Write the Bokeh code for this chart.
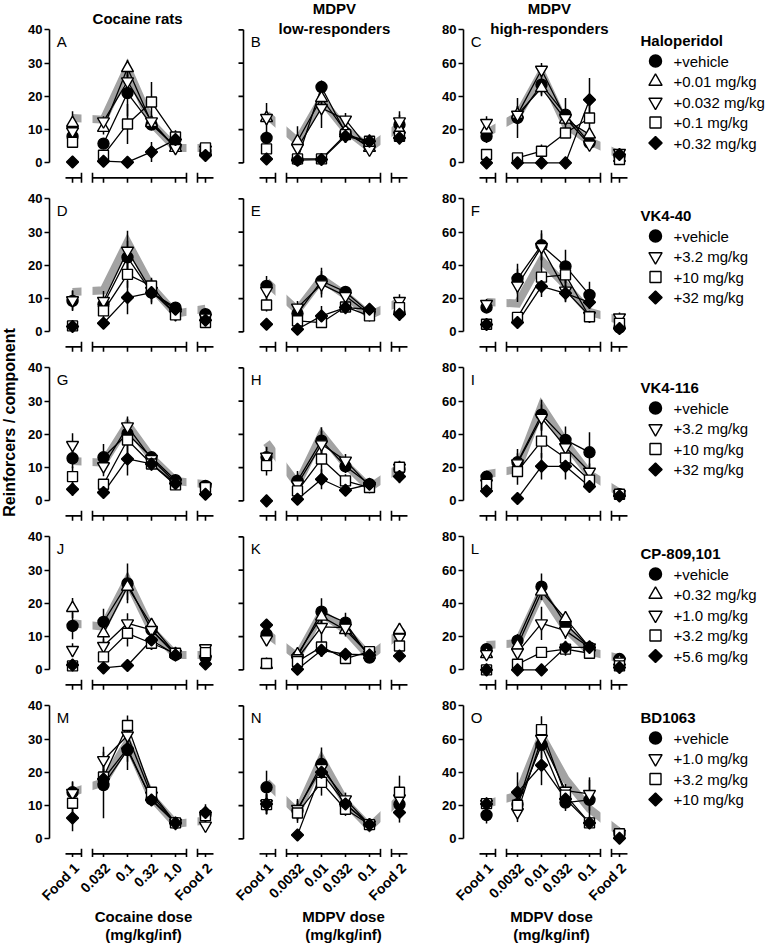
import math
from bokeh.plotting import figure
from bokeh.models import Range1d, FixedTicker, Label
from bokeh.layouts import row, column
from bokeh.embed import file_html
from bokeh.resources import INLINE
from bokeh.core.properties import value

FONT = "Liberation Sans"
BAND = "#a3a3a3"

# ---------------- categories / ticks ----------------
X_POS = [-0.29, 1.0, 2.0, 3.0, 4.0, 5.25]
COCAINE_TICKS = ["Food 1", "0.032", "0.1", "0.32", "1.0", "Food 2"]
MDPV_TICKS = ["Food 1", "0.0032", "0.01", "0.032", "0.1", "Food 2"]
COL_TICKS = [COCAINE_TICKS, MDPV_TICKS, MDPV_TICKS]
COL_TITLES = [["Cocaine rats"], ["MDPV", "low-responders"], ["MDPV", "high-responders"]]
X_TITLES = [["Cocaine dose", "(mg/kg/inf)"], ["MDPV dose", "(mg/kg/inf)"], ["MDPV dose", "(mg/kg/inf)"]]
Y_TITLE = "Reinforcers / component"
YMAX = [40, 40, 80]
LETTERS = [["A", "B", "C"], ["D", "E", "F"], ["G", "H", "I"], ["J", "K", "L"], ["M", "N", "O"]]

ROW_DRUGS = ["Haloperidol", "VK4-40", "VK4-116", "CP-809,101", "BD1063"]
ROW_LABELS = [
    ["+vehicle", "+0.01 mg/kg", "+0.032 mg/kg", "+0.1 mg/kg", "+0.32 mg/kg"],
    ["+vehicle", "+3.2 mg/kg", "+10 mg/kg", "+32 mg/kg"],
    ["+vehicle", "+3.2 mg/kg", "+10 mg/kg", "+32 mg/kg"],
    ["+vehicle", "+0.32 mg/kg", "+1.0 mg/kg", "+3.2 mg/kg", "+5.6 mg/kg"],
    ["+vehicle", "+1.0 mg/kg", "+3.2 mg/kg", "+10 mg/kg"],
]
ROW_MARKERS = [
    ["circle", "triangle", "inverted_triangle", "square", "diamond"],
    ["circle", "inverted_triangle", "square", "diamond"],
    ["circle", "inverted_triangle", "square", "diamond"],
    ["circle", "triangle", "inverted_triangle", "square", "diamond"],
    ["circle", "inverted_triangle", "square", "diamond"],
]

# ---------------- data (Food1, 4 doses, Food2) ----------------
# Row 1: Haloperidol
A_SERIES = [[8.0, 5.8, 21.0, 11.5, 5.0, 3.5], [12.0, 10.5, 28.5, 12.0, 4.5, 3.5],
            [9.5, 12.5, 24.5, 12.5, 4.5, 4.0], [6.2, 2.3, 11.7, 18.3, 7.8, 4.5],
            [0.3, 0.5, 0.2, 3.3, 7.0, 2.2]]
A_SEM = [[1.5, 1.5, 7, 1.5, 1, 1], [3.5, 2, 2.5, 1.5, 1, 1], [1.5, 1.5, 2, 1.5, 1, 1],
         [1, 1, 6, 6, 2, 1], [0.5, 0.5, 0.5, 3, 2.5, 1]]
A_BASE = [13.5, 13.0, 28.5, 12.0, 4.5, 4.5]

B_SERIES = [[7.5, 1.0, 22.8, 9.0, 5.0, 11.5], [13.5, 6.5, 19.5, 9.5, 4.5, 10.0],
            [13.5, 4.5, 16.5, 13.0, 4.0, 12.5], [4.2, 1.2, 1.2, 8.5, 6.5, 8.0],
            [1.2, 0.8, 1.0, 8.0, 6.5, 7.5]]
B_SEM = [[2, 1, 2, 1.5, 1, 3], [4.5, 4.5, 2, 1.5, 1, 2], [2, 2, 6, 2, 1.5, 3],
         [1, 0.5, 0.5, 2.5, 2, 2], [0.5, 0.5, 0.5, 2, 2, 2]]
B_BASE = [14.5, 6.5, 19.0, 10.0, 4.5, 11.0]

C_SERIES = [[16, 27, 47, 29, 12, 4], [20, 29, 45, 26, 17, 3], [24, 29, 56, 27, 11, 6],
            [5, 3, 7, 18, 27, 2], [0, 0, 0, 0, 38, 5]]
C_SEM = [[4, 12, 6, 10, 3, 2], [3, 5, 5, 3, 4, 2], [4, 5, 4, 3, 3, 2],
         [2, 1, 4, 3, 8, 1], [1, 1, 1, 1, 13, 2]]
C_BASE = [18, 28, 54, 23, 13, 5]

# Row 2: VK4-40
D_SERIES = [[9.3, 8.3, 22.4, 11.8, 7.3, 5.3], [9.5, 9.3, 24.4, 12.3, 5.3, 4.3],
            [1.8, 6.3, 17.3, 13.8, 5.1, 2.8], [1.6, 2.6, 10.3, 11.8, 6.8, 3.5]]
D_SEM = [[3, 2, 5, 2, 1, 1], [3, 3, 6, 4, 1, 1], [0.5, 2, 4, 2, 1, 1], [0.5, 1, 5, 3, 2, 1]]
D_BASE = [12.0, 12.5, 27.0, 13.5, 5.5, 7.0]

E_SERIES = [[13.8, 5.5, 15.3, 12.0, 5.8, 5.8], [12.3, 7.3, 14.3, 10.8, 5.3, 9.3],
            [8.1, 3.3, 2.8, 7.5, 4.8, 7.3], [2.3, 0.8, 4.8, 7.3, 6.8, 5.3]]
E_SEM = [[3, 2, 4, 1.5, 1, 2], [3, 2, 4, 2, 1, 2], [2, 1.5, 1.5, 2, 1, 2], [1.5, 0.5, 3, 2, 1.5, 2]]
E_BASE = [15.0, 6.5, 16.0, 11.0, 5.0, 9.0]

F_SERIES = [[14.7, 31.9, 52.1, 39.4, 22.2, 2.6], [16.8, 27.9, 51.1, 24.8, 9.7, 8.7],
            [4.6, 8.7, 32.9, 34.3, 9.1, 5.1], [4.4, 5.7, 27.3, 23.2, 17.8, 2.0]]
F_SEM = [[3, 9, 9, 10, 8, 2], [3, 10, 8, 7, 3, 3], [2, 3, 12, 8, 2, 2], [2, 2, 4, 5, 4, 1]]
F_BASE = [18, 17, 43, 28, 12, 7]

# Row 3: VK4-116
G_SERIES = [[12.8, 13.1, 20.2, 13.1, 6.2, 4.5], [16.8, 10.4, 22.4, 12.6, 5.5, 4.2],
            [7.3, 5.0, 18.3, 11.1, 4.8, 4.0], [3.5, 2.5, 12.6, 11.1, 5.2, 2.0]]
G_SEM = [[3, 4, 3, 1.5, 1, 1], [3.5, 3, 3, 1.5, 1, 1], [3, 1.5, 4, 2, 1, 1], [2, 1, 5, 2, 1, 1]]
G_BASE = [12.0, 11.5, 23.0, 13.0, 6.0, 5.0]

H_SERIES = [[13.1, 6.0, 18.1, 10.4, 5.0, 9.5], [13.3, 5.0, 17.0, 12.1, 4.5, 10.0],
            [10.6, 3.0, 12.6, 6.0, 4.0, 10.1], [0.0, 0.5, 6.5, 3.2, 5.0, 7.3]]
H_SEM = [[3, 3, 4, 2, 1, 2], [3, 3, 4, 2, 1, 2], [3, 1, 5, 2, 1, 2], [0.5, 0.5, 3, 1, 1, 2]]
H_BASE = [17.5, 5.0, 20.0, 11.0, 4.0, 10.0]

I_SERIES = [[14.5, 23.2, 51.8, 36.7, 29.2, 4.0], [10.5, 22.6, 50.0, 32.3, 17.5, 4.0],
            [10.0, 17.7, 35.9, 25.8, 12.5, 4.0], [6.0, 1.4, 20.8, 20.8, 8.7, 3.0]]
I_SEM = [[2, 8, 9, 8, 12, 1], [2, 6, 8, 6, 5, 1], [2, 8, 10, 6, 3, 1], [2, 1, 8, 8, 3, 1]]
I_BASE = [16, 19, 57, 35, 16, 5]

# Row 4: CP-809,101
J_SERIES = [[13.2, 14.4, 26.0, 12.0, 4.5, 3.7], [18.6, 11.0, 25.0, 13.5, 4.8, 5.0],
            [6.0, 7.2, 14.0, 12.0, 4.8, 6.5], [1.2, 3.9, 11.0, 8.0, 5.0, 5.2],
            [1.5, 0.6, 1.3, 9.0, 4.5, 1.8]]
J_SEM = [[4, 4, 6, 2, 1, 1], [3, 3, 4, 2, 1, 1], [2, 2, 3, 2, 1, 1], [0.5, 1, 4, 2, 1, 1],
         [0.5, 0.5, 0.5, 3, 1, 1]]
J_BASE = [14.0, 13.0, 27.0, 12.0, 4.5, 4.5]

K_SERIES = [[10.7, 4.0, 17.5, 14.2, 3.7, 11.0], [1.5, 4.7, 16.0, 12.0, 4.5, 12.0],
            [9.2, 3.5, 12.9, 12.7, 4.5, 9.7], [1.9, 2.5, 6.9, 3.4, 5.5, 7.2],
            [13.5, 0.2, 5.9, 4.7, 4.5, 4.2]]
K_SEM = [[2, 2, 4, 3, 1, 2], [1, 1.5, 3, 2, 1, 2], [2, 1.5, 3, 2, 1, 2], [1, 1, 3, 1, 1, 2],
         [1.5, 0.3, 2, 1, 1, 1.5]]
K_BASE = [11.0, 4.0, 17.0, 12.0, 4.0, 11.0]

L_SERIES = [[12.5, 17.6, 50.0, 27.7, 13.5, 6.5], [9.5, 14.5, 47.0, 31.0, 13.5, 5.0],
            [9.5, 10.5, 28.0, 23.6, 13.5, 5.0], [0.0, 3.4, 10.5, 12.5, 10.0, 2.4],
            [0.0, 0.0, 0.0, 13.5, 13.5, 1.4]]
L_SEM = [[2, 4, 8, 5, 3, 2], [2, 3, 5, 4, 3, 2], [2, 3, 10, 5, 3, 2], [1, 2, 3, 4, 2, 1],
         [1, 0.5, 0.5, 4, 3, 1]]
L_BASE = [15, 16, 47, 25, 11, 7]

# Row 5: BD1063
M_SERIES = [[14.0, 16.2, 26.7, 11.9, 4.8, 7.3], [13.8, 23.7, 31.1, 13.0, 4.8, 4.0],
            [10.7, 18.6, 34.1, 14.0, 4.8, 7.0], [6.3, 18.0, 27.2, 11.7, 4.8, 7.9]]
M_SEM = [[3, 10, 6, 1.5, 1, 2], [3.5, 4, 3, 1.5, 1, 2], [3, 3, 3, 1, 1, 2], [4, 3, 4, 1, 1, 2.5]]
M_BASE = [14.0, 17.0, 29.0, 12.5, 4.5, 5.5]

N_SERIES = [[15.5, 8.5, 22.5, 10.4, 4.3, 10.4], [10.5, 9.0, 21.3, 11.9, 4.3, 12.2],
            [10.3, 7.8, 17.0, 8.9, 4.3, 14.0], [10.5, 1.2, 20.0, 10.5, 4.3, 7.9]]
N_SEM = [[5, 3, 5, 2, 1, 3], [3, 3, 4, 2, 1, 3], [3, 3, 4, 2, 1, 5], [3, 1, 4, 2, 1, 3]]
N_BASE = [17.0, 8.0, 24.0, 11.0, 3.5, 12.0]

O_SERIES = [[14.3, 20.8, 56.5, 21.8, 23.5, 3.0], [21.0, 16.1, 60.2, 29.0, 27.0, 3.0],
            [21.2, 20.2, 65.7, 26.3, 9.6, 3.1], [21.0, 28.0, 44.3, 24.0, 9.6, 0.4]]
O_SEM = [[5, 5, 8, 5, 12, 1], [4, 6, 6, 4, 10, 1], [3, 4, 8, 4, 3, 1], [3, 12, 12, 3, 3, 1]]
O_BASE = [21, 26, 62, 36, 18, 4]

PANELS = [
    [(A_SERIES, A_SEM, A_BASE), (B_SERIES, B_SEM, B_BASE), (C_SERIES, C_SEM, C_BASE)],
    [(D_SERIES, D_SEM, D_BASE), (E_SERIES, E_SEM, E_BASE), (F_SERIES, F_SEM, F_BASE)],
    [(G_SERIES, G_SEM, G_BASE), (H_SERIES, H_SEM, H_BASE), (I_SERIES, I_SEM, I_BASE)],
    [(J_SERIES, J_SEM, J_BASE), (K_SERIES, K_SEM, K_BASE), (L_SERIES, L_SEM, L_BASE)],
    [(M_SERIES, M_SEM, M_BASE), (N_SERIES, N_SEM, N_BASE), (O_SERIES, O_SEM, O_BASE)],
]

# ---------------- layout constants ----------------
FRAME_W, FRAME_H = 172, 158
PX_PER_X = 24.0
X_LO, X_HI = -1.25, 5.917
Y_LO, Y_HI = -6.5, 41.0          # nominal frame, in units of (ymax/40)
PX_PER_UNIT = FRAME_H / (Y_HI - Y_LO)
YLAB_W = 24
LEFT_BORDER = [25, 14, 48]
EXTRA_LEFT = [0, 8, 0]           # col 2 draws its own (label-less) y axis
FRAME_LEFT = [49, 243, 463]      # page x of nominal frame left (y axis line)
ROW_TOP = [0, 6, 6, 6, 6]        # figure border above frame
ROW_BOTTOM = [5, 5, 5, 5, 0]
EXT_TOP = [26, 0, 0, 0, 0]       # frame extension above nominal frame (px)
EXT_BOTTOM = [0, 0, 0, 0, -3]    # frame extension below nominal frame (px)
FRAME_TOP = [26, 195, 364, 533, 702]   # page y of nominal frame top
STRIP_TOP, STRIP_BOTTOM = 857, 944
AXIS_SEGMENTS = [(-0.583, 0.083), (0.542, 4.458), (4.917, 5.583)]
CAP_X = [0.083, 0.542, 4.458, 4.917]
GAPS = [(0.083, 0.542), (4.458, 4.917)]
AXIS_Y = -4.5
TICK_LEN = 1.5
TICKLABEL_DX = 4                 # px right of tick
TICKLABEL_PY = 865               # page y of rotated tick-label anchor
TITLE_X = [2.42, 2.54, 2.33]
TITLE_Y = [[18], [8, 28], [8, 28]]
XTITLE_PX = [143, 343, 551]
XTITLE_Y = [916, 934]
LEG_TITLE_Y = [40, 215, 387, 553, 717]
LEG_STEP = 20.5
YLABEL_CENTER = 422


def marker_kw(m, scale=1.0):
    filled = m in ("circle", "diamond")
    kw = dict(fill_color="black" if filled else "white", line_color="black", line_width=1.4)
    if m == "diamond":
        kw.update(marker="square", angle=math.pi / 4, size=8.5 * scale)
    elif m == "circle":
        kw.update(marker="circle", size=11 * scale)
    elif m == "square":
        kw.update(marker="square", size=10 * scale)
    else:
        kw.update(marker=m, size=12 * scale)
    return kw


def page_to_y(py, r, k):
    return (Y_HI - (py - FRAME_TOP[r]) / PX_PER_UNIT) * k


def make_panel(r, c):
    series, sems, base = PANELS[r][c]
    k = YMAX[c] / 40.0
    lb = LEFT_BORDER[c]
    extra = EXTRA_LEFT[c]
    x_lo = X_LO - extra / PX_PER_X
    y_hi = (Y_HI + EXT_TOP[r] / PX_PER_UNIT) * k
    y_lo = (Y_LO - EXT_BOTTOM[r] / PX_PER_UNIT) * k
    top, bot = ROW_TOP[r], ROW_BOTTOM[r]
    fh = FRAME_H + EXT_TOP[r] + EXT_BOTTOM[r]
    p = figure(width=lb + FRAME_W + extra, height=top + fh + bot,
               x_range=Range1d(x_lo, X_HI), y_range=Range1d(y_lo, y_hi),
               min_border_left=lb, min_border_right=0, min_border_top=top,
               min_border_bottom=bot, output_backend="svg", toolbar_location=None, tools="")
    p.outline_line_color = None
    p.xgrid.visible = False
    p.ygrid.visible = False
    p.xaxis.visible = False

    # baseline band (thick grey line, hidden in the axis gaps)
    p.line(X_POS, base, line_width=8, line_color=BAND, line_join="miter", level="underlay")
    p.quad(left=[g[0] for g in GAPS], right=[g[1] for g in GAPS],
           bottom=y_lo, top=y_hi, fill_color="white", line_color=None, level="underlay")

    yticks = [t * k for t in [0, 10, 20, 30, 40]]
    ya = p.yaxis[0]
    if c == 1:
        ya.visible = False
        tlx = 5 / PX_PER_X
        p.segment(x0=[X_LO], x1=[X_LO], y0=[0], y1=[40 * k], line_width=1.6, line_color="black")
        p.segment(x0=X_LO - tlx, x1=X_LO, y0=yticks, y1=yticks, line_width=1.6, line_color="black")
    else:
        ya.ticker = FixedTicker(ticks=yticks)
        ya.bounds = (0, 40 * k)
        ya.axis_line_width = 1.6
        ya.axis_line_color = "black"
        ya.major_tick_out = 5
        ya.major_tick_in = 0
        ya.major_tick_line_width = 1.6
        ya.major_tick_line_color = "black"
        ya.minor_tick_line_color = None
        ya.major_label_text_font = FONT
        ya.major_label_text_font_size = "13px"
        ya.major_label_text_font_style = "bold"
        ya.major_label_text_color = "black"
        ya.major_label_standoff = 2

    # segmented x axis
    ay = AXIS_Y * k
    tl = TICK_LEN * k
    p.segment(x0=[s[0] for s in AXIS_SEGMENTS], x1=[s[1] for s in AXIS_SEGMENTS],
              y0=ay, y1=ay, line_width=1.6, line_color="black")
    p.segment(x0=X_POS, x1=X_POS, y0=ay, y1=ay - tl, line_width=1.6, line_color="black")
    p.segment(x0=CAP_X, x1=CAP_X, y0=ay - tl, y1=ay + tl, line_width=1.6, line_color="black")

    # error bars, dose lines, markers
    for vals, err in zip(series, sems):
        p.segment(x0=X_POS, x1=X_POS, y0=[v - e for v, e in zip(vals, err)],
                  y1=[v + e for v, e in zip(vals, err)], line_width=1.5, line_color="black")
    for vals in series:
        p.line(X_POS[1:5], vals[1:5], line_width=1.3, line_color="black")
    for vals, m in zip(series, ROW_MARKERS[r]):
        p.scatter(X_POS, vals, **marker_kw(m))

    p.add_layout(Label(x=-0.95, y=36.6 * k, text=LETTERS[r][c], text_font=FONT,
                       text_font_size="15px", text_baseline="middle", text_align="left",
                       text_color="black"))

    if r == 0:
        for t, py in zip(COL_TITLES[c], TITLE_Y[c]):
            p.add_layout(Label(x=TITLE_X[c], y=page_to_y(py, r, k), text=t, text_font=FONT,
                               text_font_size="15px", text_font_style="bold",
                               text_align="center", text_baseline="middle", text_color="black"))
    return p


panels = [[make_panel(r, c) for c in range(3)] for r in range(5)]

# bottom strip: rotated dose tick labels and x-axis titles (page-pixel coordinates)
MAIN_W = sum(LEFT_BORDER) + 3 * FRAME_W + sum(EXTRA_LEFT)
strip = figure(width=MAIN_W, height=STRIP_BOTTOM - STRIP_TOP,
               x_range=Range1d(YLAB_W, YLAB_W + MAIN_W), y_range=Range1d(STRIP_BOTTOM, STRIP_TOP),
               x_axis_type=None, y_axis_type=None, min_border=0, output_backend="svg",
               toolbar_location=None, tools="")
strip.outline_line_color = None
for c in range(3):
    tx = [FRAME_LEFT[c] + (x - X_LO) * PX_PER_X + TICKLABEL_DX for x in X_POS]
    strip.text(x=tx, y=[TICKLABEL_PY] * len(tx), text=COL_TICKS[c], angle=math.pi / 4,
               text_align="right", text_baseline="middle", text_font=value(FONT),
               text_font_size="14px", text_font_style="bold", text_color="black")
    strip.text(x=[XTITLE_PX[c]] * 2, y=XTITLE_Y, text=X_TITLES[c], text_align="center",
               text_baseline="middle", text_font=value(FONT), text_font_size="15px",
               text_font_style="bold", text_color="black")

main = column(*[row(*panels[r]) for r in range(5)], strip)

TOTAL_H = STRIP_BOTTOM

# y-axis title strip
ylab = figure(width=YLAB_W, height=TOTAL_H, x_range=Range1d(0, YLAB_W), y_range=Range1d(TOTAL_H, 0),
              x_axis_type=None, y_axis_type=None, min_border=0, output_backend="svg",
              toolbar_location=None, tools="")
ylab.outline_line_color = None
ylab.add_layout(Label(x=9, y=YLABEL_CENTER, text=Y_TITLE, angle=math.pi / 2,
                      text_font=FONT, text_font_size="16px", text_font_style="bold",
                      text_align="center", text_baseline="middle", text_color="black"))

# legend strip
LEG_W = 135
leg = figure(width=LEG_W, height=TOTAL_H, x_range=Range1d(0, LEG_W), y_range=Range1d(TOTAL_H, 0),
             x_axis_type=None, y_axis_type=None, min_border=0, output_backend="svg",
             toolbar_location=None, tools="")
leg.outline_line_color = None
for r in range(5):
    ty = LEG_TITLE_Y[r]
    leg.text(x=[5], y=[ty], text=[ROW_DRUGS[r]], text_font=value(FONT), text_font_size="15px",
             text_font_style="bold", text_baseline="middle", text_align="left", text_color="black")
    n = len(ROW_LABELS[r])
    ys = [ty + LEG_STEP * (i + 1) for i in range(n)]
    for i, m in enumerate(ROW_MARKERS[r]):
        leg.scatter([20], [ys[i]], **marker_kw(m, 1.1))
    leg.text(x=[38] * n, y=ys, text=ROW_LABELS[r], text_font=value(FONT), text_font_size="15px",
             text_baseline="middle", text_align="left", text_color="black")

layout = row(ylab, main, leg)
open("out.html", "w").write(file_html(layout, INLINE))
